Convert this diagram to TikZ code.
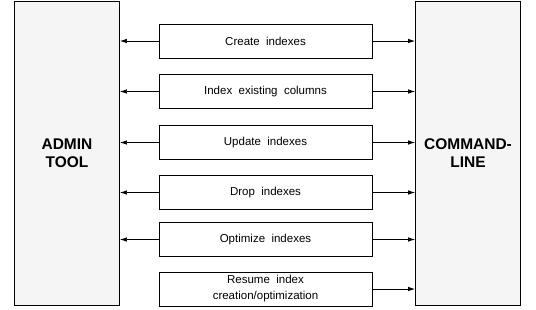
\documentclass[tikz,border=0pt]{standalone}
\usepackage{fontspec}
\setmainfont{Liberation Sans}
\usepackage{xcolor}
\usepackage{tikz}
\usetikzlibrary{arrows.meta,positioning,calc}
\definecolor{toolgray}{RGB}{245, 245, 245}

\begin{document}
\begin{tikzpicture}[x=1pt, y=-1pt,
    every node/.style={font=\fontsize{11.5}{16}\selectfont, inner sep=0pt},
    toolbox/.style={draw=black, fill=toolgray, line width=0.9pt, minimum width=105pt, minimum height=304pt, align=center, font=\fontsize{15.5}{17.6}\selectfont\bfseries},
    opbox/.style={draw=black, line width=0.9pt, minimum width=213pt, minimum height=34pt, align=center},
    link/.style={-{Latex[length=7pt,width=4.5pt]}, line width=0.7pt}]
    \useasboundingbox (0,0) rectangle (536,309);

    % Side tools
    \node[toolbox] (t_admin) at (67, 153) {ADMIN\\TOOL};
    \node[toolbox] (t_cmd) at (468, 153) {COMMAND-\\LINE};

    % Operations
    \node[opbox] (op_create) at (265.5, 41) {Create\ \ indexes};
    \node[opbox] (op_exist) at (265.5, 91.5) {Index\ \ existing\ \ columns};
    \node[opbox] (op_update) at (265.5, 142.5) {Update\ \ indexes};
    \node[opbox] (op_drop) at (265.5, 192.5) {Drop\ \ indexes};
    \node[opbox] (op_optim) at (265.5, 239.5) {Optimize\ \ indexes};
    \node[opbox] (op_resume) at (265.5, 289) {Resume\ \ index\\creation/optimization};

    % Connectors
    \foreach \op in {op_create, op_exist, op_update, op_drop, op_optim} {
        \draw[link] (\op.west) -- (\op.west -| t_admin.east);
    }
    \foreach \op in {op_create, op_exist, op_update, op_drop, op_optim, op_resume} {
        \draw[link] (\op.east) -- (\op.east -| t_cmd.west);
    }
\end{tikzpicture}
\end{document}
